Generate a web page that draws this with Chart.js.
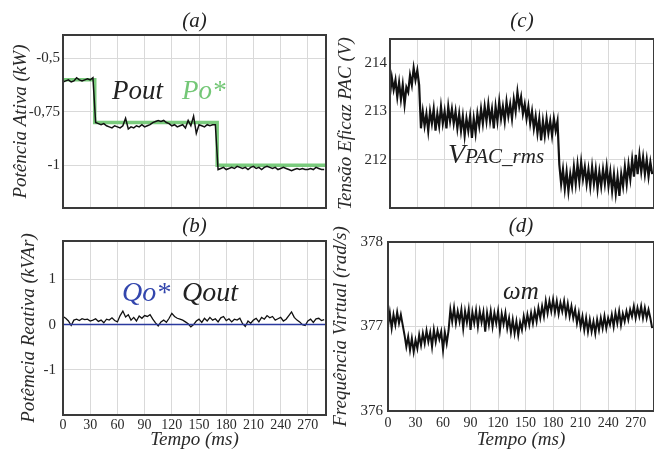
<!DOCTYPE html>
<html>
<head>
<meta charset="utf-8">
<script src="https://cdn.jsdelivr.net/npm/chart.js@4.4.1/dist/chart.umd.min.js"></script>
<style>
  html, body { margin: 0; padding: 0; background: #fff; }
  #page { position: relative; width: 654px; height: 449px; overflow: hidden; font-family: "Liberation Serif", "Times New Roman", serif; }
  canvas { position: absolute; }
  .lbl { position: absolute; font-style: italic; color: #222; white-space: nowrap; line-height: 1; }
  .tag { font-size: 21px; text-align: center; }
</style>
</head>
<body>
<div id="page">
  <canvas id="chartA" width="330" height="220" style="left:0;top:0"></canvas>
  <canvas id="chartB" width="330" height="229" style="left:0;top:220px"></canvas>
  <canvas id="chartC" width="324" height="220" style="left:330px;top:0"></canvas>
  <canvas id="chartD" width="324" height="229" style="left:330px;top:220px"></canvas>

  <div class="lbl tag" style="left:63px;width:263px;top:10px">(a)</div>
  <div class="lbl tag" style="left:63px;width:263px;top:215px">(b)</div>
  <div class="lbl tag" style="left:390px;width:264px;top:10px">(c)</div>
  <div class="lbl tag" style="left:388px;width:266px;top:215px">(d)</div>

  <div class="lbl" style="left:112px;top:77px;font-size:27px">Pout</div>
  <div class="lbl" style="left:182px;top:77px;font-size:27px;color:#74c777">Po*</div>
  <div class="lbl" style="left:122px;top:278px;font-size:28px;color:#3346ad">Qo*</div>
  <div class="lbl" style="left:182px;top:278px;font-size:28px">Qout</div>
  <div class="lbl" style="left:448px;top:140px"><span style="font-size:28px">V</span><span style="font-size:21px">PAC_rms</span></div>
  <div class="lbl" style="left:503px;top:278px;font-size:25px">ωm</div>
</div>

<script>
// (a) active power, sampled every 3 ms
const pOutKW = [
  -0.61, -0.605, -0.6, -0.61, -0.605, -0.59, -0.6, -0.605, -0.6, -0.595, -0.6, -0.59,
  -0.80, -0.805, -0.81, -0.805, -0.815, -0.82, -0.825, -0.815, -0.82, -0.825,
  -0.815, -0.78, -0.83, -0.82, -0.825, -0.815, -0.82, -0.81, -0.82, -0.815,
  -0.81, -0.80, -0.795, -0.79, -0.795, -0.79, -0.80, -0.805, -0.815, -0.81,
  -0.82, -0.815, -0.81, -0.825, -0.79, -0.815, -0.77, -0.85, -0.81, -0.815,
  -0.82, -0.81, -0.815, -0.81, -0.81,
  -1.02, -1.015, -1.01, -1.02, -1.015, -1.01, -1.015, -1.005, -1.01, -1.015,
  -1.01, -1.02, -1.01, -1.005, -1.015, -1.01, -1.02, -1.01, -1.005, -1.01,
  -1.015, -1.01, -1.02, -1.015, -1.01, -1.015, -1.02, -1.025, -1.02, -1.015,
  -1.02, -1.015, -1.02, -1.02, -1.015, -1.02, -1.01, -1.015, -1.02, -1.02
];
const pRefTimesMs = [0, 35, 170, 290];
const pRefKW = [-0.6, -0.8, -1.0, -1.0];

// (b) reactive power, sampled every 3 ms
const qOutKVAr = [
  0.18, 0.14, 0.08, -0.02, 0.1, 0.12, 0.09, 0.13, 0.11, 0.12,
  0.08, 0.1, 0.13, 0.07, 0.1, 0.04, 0.12, 0.1, 0.15, 0.09,
  0.06, 0.2, 0.3, 0.17, 0.22, 0.1, 0.16, 0.08, 0.19, 0.14,
  0.2, 0.18, 0.22, 0.12, 0.04, -0.03, 0.06, 0.1, 0.05, 0.14,
  0.25, 0.18, 0.14, 0.12, 0.1, 0.06, 0.02, -0.05, 0.0, 0.08,
  0.12, 0.05, 0.14, 0.08, 0.16, 0.1, 0.13, 0.06, 0.15, 0.18,
  0.09, 0.13, 0.06, 0.12, 0.1, 0.14, 0.02, -0.04, 0.08, 0.03,
  0.1, 0.14, 0.06, 0.16, 0.12, 0.2, 0.15, 0.18, 0.1, 0.13,
  0.16, 0.08, 0.12, 0.2, 0.28, 0.16, 0.1, 0.06, 0.0, -0.02,
  0.08, 0.12, 0.05, 0.13, 0.14, 0.09, 0.11
];
const qRefTimesMs = [0, 290];
const qRefKVAr = [0, 0];

// (c) PCC rms voltage, sampled every 2 ms
const vPacRms = [
  213.35, 213.7, 213.45, 213.65, 213.3, 213.6, 213.25, 213.55, 213.15, 213.5, 213.4, 213.75, 213.55, 213.9, 213.65, 213.85, 213.55,
  212.65, 213.0, 212.7, 212.95, 212.6, 213.0, 212.75, 213.05, 212.6, 212.95, 212.7, 213.1, 212.75, 213.0, 212.65, 213.1, 212.8, 213.05, 212.75,
  213.0, 212.65, 212.95, 212.6, 212.9, 212.5, 212.85, 212.6, 212.9, 212.45, 212.85, 212.55, 212.95, 212.7, 213.05, 212.75, 213.1,
  212.8, 213.15, 212.8, 213.05, 212.65, 213.1, 212.8, 213.2, 212.85, 213.1, 212.8, 213.2, 212.9, 213.15, 212.85, 213.25, 213.0, 213.4, 213.1, 213.3, 212.95, 213.15, 212.85,
  213.1, 212.75, 213.0, 212.65, 212.9, 212.55, 212.85, 212.4, 212.8, 212.5, 212.85, 212.55, 212.8, 212.5, 212.85, 212.6, 212.8,
  211.9, 211.5, 211.8, 211.4, 211.75, 211.35, 211.7, 211.45, 211.85, 211.5, 211.9, 211.55, 211.95, 211.6, 211.85, 211.5,
  211.8, 211.45, 211.85, 211.5, 211.8, 211.4, 211.75, 211.45, 211.8, 211.5, 211.85, 211.45, 211.75, 211.35, 211.7, 211.3, 211.65, 211.25, 211.7, 211.45,
  211.85, 211.5, 211.9, 211.6, 212.0, 211.65, 212.1, 211.7, 212.1, 211.75, 212.05, 211.7, 212.0, 211.65, 211.95, 211.7
];

// (d) virtual frequency, sampled every 2 ms
const omegaM = [
  377.0, 377.16, 376.98, 377.14, 377.02, 377.17, 377.04, 377.14, 377.02,
  376.9, 376.76, 376.88, 376.72, 376.86, 376.7, 376.84, 376.74, 376.9, 376.78, 376.92, 376.8, 376.95,
  376.82, 376.93, 376.76, 376.96, 376.82, 376.95, 376.85, 376.94, 376.72, 376.93, 376.8, 376.95,
  377.2, 377.06, 377.22, 377.04, 377.18, 377.06, 377.2, 376.98, 377.18, 377.05, 377.2, 376.96, 377.17, 377.04, 377.19, 377.0,
  377.18, 377.05, 377.17, 376.94, 377.16, 377.02, 377.18, 377.0, 377.16, 377.04, 377.18, 376.96, 377.15, 377.03, 377.16,
  376.98, 377.1, 376.93, 377.08, 376.92, 377.06, 376.9, 377.05, 376.96, 377.12, 377.0,
  377.14, 377.02, 377.16, 377.04, 377.18, 377.06, 377.22, 377.1, 377.24, 377.12,
  377.3, 377.16, 377.3, 377.18, 377.32, 377.17, 377.3, 377.15, 377.28, 377.18, 377.3, 377.14, 377.27, 377.12, 377.24,
  377.1, 377.2, 377.04, 377.16, 377.0, 377.12, 376.96, 377.1, 376.94, 377.08, 376.94, 377.06, 376.92, 377.08, 376.96, 377.1, 376.98, 377.12, 376.98, 377.1,
  377.02, 377.14, 377.0, 377.16, 377.04, 377.18, 377.02, 377.15, 377.06, 377.18, 377.08, 377.2, 377.12, 377.24, 377.1, 377.22, 377.12, 377.24, 377.1, 377.22, 377.1, 377.2, 377.1, 376.98
];

const timeTicksMs = [0, 30, 60, 90, 120, 150, 180, 210, 240, 270];
const yTicksA = [-1, -0.75, -0.5];
const yTicksB = [-1, 0, 1];
const yTicksC = [212, 213, 214];
const yTicksD = [376, 377, 378];

// sampling instants of the scope traces
const tSlow = pOutKW.map((_, i) => i * 3);
const tFast = vPacRms.map((_, i) => i * 2);
const xy = (ts, vs) => ts.map((t, i) => ({ x: t, y: vs[i] }));

const SERIF = '"Liberation Serif", "Times New Roman", serif';
const INK = '#2a2a2a';

// dark box around the plot area, like the scope screenshots
const framePlugin = {
  id: 'frame',
  afterDraw(chart) {
    const { ctx, chartArea: a } = chart;
    ctx.save();
    ctx.strokeStyle = '#3a3a3a';
    ctx.lineWidth = 2;
    ctx.strokeRect(a.left, a.top, a.right - a.left, a.bottom - a.top);
    ctx.restore();
  }
};

function panel(id, o) {
  return new Chart(document.getElementById(id), {
    type: 'line',
    data: { datasets: o.datasets },
    options: {
      responsive: false,
      animation: false,
      devicePixelRatio: 1,
      layout: { padding: o.pad },
      plugins: { legend: { display: false }, tooltip: { enabled: false } },
      elements: { point: { radius: 0 }, line: { tension: 0 } },
      scales: {
        x: {
          type: 'linear', min: 0, max: 290,
          afterBuildTicks: s => { s.ticks = timeTicksMs.map(v => ({ value: v })); },
          afterFit: s => { s.height = o.xHeight; },
          grid: { color: '#d9d9d9', drawTicks: false },
          border: { display: false },
          ticks: {
            display: o.xLabels, autoSkip: false, maxRotation: 0, padding: o.xPad || 2,
            color: INK, font: { family: SERIF, size: 14 }
          },
          title: {
            display: o.xLabels, text: 'Tempo (ms)', color: INK, padding: { top: 0, bottom: -2 },
            font: { family: SERIF, size: 19, style: 'italic' }
          }
        },
        y: {
          min: o.yMin, max: o.yMax,
          afterBuildTicks: s => { s.ticks = o.yTicks.map(v => ({ value: v })); },
          afterFit: s => { s.width = o.yWidth; },
          grid: { color: '#d9d9d9', drawTicks: false },
          border: { display: false },
          ticks: {
            padding: o.yPad, color: INK, font: { family: SERIF, size: 15 },
            callback: v => String(v).replace('.', ',')
          },
          title: {
            display: true, text: o.yTitle, color: INK, padding: { top: o.yTitlePad, bottom: 0 },
            font: { family: SERIF, size: 19, style: 'italic' }
          }
        }
      }
    },
    plugins: [framePlugin]
  });
}

panel('chartA', {
  datasets: [
    { data: xy(tSlow, pOutKW), borderColor: '#111', borderWidth: 1.5 },
    { data: xy(pRefTimesMs, pRefKW), borderColor: '#7acb7d', borderWidth: 3.5, stepped: 'before' }
  ],
  pad: { top: 35, right: 4, bottom: 0, left: 0 },
  xHeight: 10, xLabels: false,
  yMin: -1.2, yMax: -0.39, yTicks: yTicksA, yWidth: 63, yPad: 3, yTitlePad: 10,
  yTitle: 'Potência Ativa (kW)'
});

panel('chartB', {
  datasets: [
    { data: xy(qRefTimesMs, qRefKVAr), borderColor: '#2b3a9e', borderWidth: 1.5 },
    { data: xy(tSlow, qOutKVAr), borderColor: '#111', borderWidth: 1.3 }
  ],
  pad: { top: 21, right: 4, bottom: 0, left: 0 },
  xHeight: 34, xLabels: true, xPad: 2,
  yMin: -2, yMax: 1.85, yTicks: yTicksB, yWidth: 63, yPad: 7, yTitlePad: 18,
  yTitle: 'Potêmcia Reativa (kVAr)'
});

panel('chartC', {
  datasets: [
    { data: xy(tFast, vPacRms), borderColor: '#111', borderWidth: 2.2 }
  ],
  pad: { top: 39, right: 0, bottom: 0, left: 0 },
  xHeight: 12, xLabels: false,
  yMin: 211, yMax: 214.5, yTicks: yTicksC, yWidth: 60, yPad: 3, yTitlePad: 5,
  yTitle: 'Tensão Eficaz PAC (V)'
});

panel('chartD', {
  datasets: [
    { data: xy(tFast, omegaM), borderColor: '#111', borderWidth: 2 }
  ],
  pad: { top: 22, right: 0, bottom: 0, left: 0 },
  xHeight: 38, xLabels: true, xPad: 4,
  yMin: 376, yMax: 378, yTicks: yTicksD, yWidth: 58, yPad: 5, yTitlePad: 0,
  yTitle: 'Frequência Virtual (rad/s)'
});
</script>
</body>
</html>
